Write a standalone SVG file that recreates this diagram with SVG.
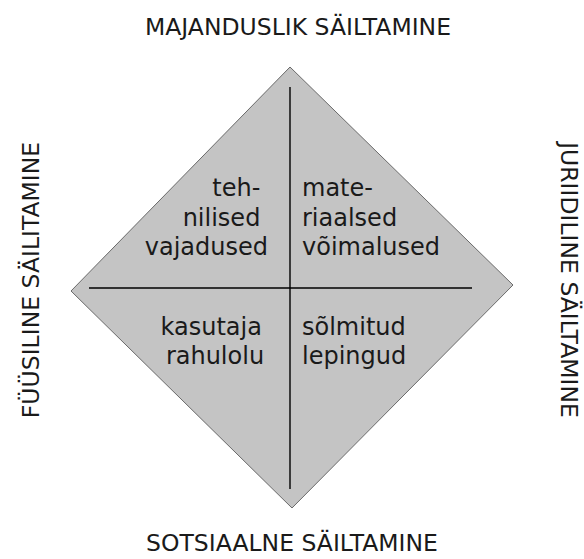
<svg xmlns="http://www.w3.org/2000/svg" width="584" height="559" viewBox="0 0 584 559">
  <style>
    .lbl { font-family: "DejaVu Sans", "Liberation Sans", sans-serif; fill: #1a1a1a; }
    .title { font-size: 23.5px; }
    .body { font-size: 24px; }
    .axis { stroke: #000; stroke-width: 1.4; fill: none; }
  </style>
  <rect width="584" height="559" fill="#fff"/>

  <!-- diamond background -->
  <g id="diamond">
    <polygon points="290,67 513,285 292,508 71,291" fill="#c4c4c4" stroke="#6a6a6a" stroke-width="1"/>
  </g>

  <!-- dividing axes -->
  <g id="connectors">
    <line class="axis" x1="290" y1="87" x2="290" y2="489"/>
    <line class="axis" x1="89" y1="288" x2="472" y2="288"/>
  </g>

  <!-- outer labels -->
  <g id="label-top">
    <text class="lbl title" x="298" y="35" text-anchor="middle">MAJANDUSLIK SÄILTAMINE</text>
  </g>
  <g id="label-bottom">
    <text class="lbl title" x="292" y="551" text-anchor="middle">SOTSIAALNE SÄILTAMINE</text>
  </g>
  <g id="label-left">
    <text class="lbl title" transform="translate(39,280) rotate(-90)" text-anchor="middle">FÜÜSILINE SÄILITAMINE</text>
  </g>
  <g id="label-right">
    <text class="lbl title" transform="translate(561,280) rotate(90)" text-anchor="middle">JURIIDILINE SÄILTAMINE</text>
  </g>

  <!-- quadrant texts -->
  <g id="q-top-left">
    <text class="lbl body" text-anchor="end">
      <tspan x="268" y="196">teh-</tspan>
      <tspan x="268" y="226">nilised</tspan>
      <tspan x="268" y="255">vajadused</tspan>
    </text>
  </g>
  <g id="q-top-right">
    <text class="lbl body">
      <tspan x="302" y="196">mate-</tspan>
      <tspan x="302" y="226">riaalsed</tspan>
      <tspan x="302" y="255">võimalused</tspan>
    </text>
  </g>
  <g id="q-bottom-left">
    <text class="lbl body" text-anchor="middle">
      <tspan x="215" y="335">kasutaja</tspan>
      <tspan x="215" y="364">rahulolu</tspan>
    </text>
  </g>
  <g id="q-bottom-right">
    <text class="lbl body">
      <tspan x="302" y="335">sõlmitud</tspan>
      <tspan x="302" y="364">lepingud</tspan>
    </text>
  </g>
</svg>
